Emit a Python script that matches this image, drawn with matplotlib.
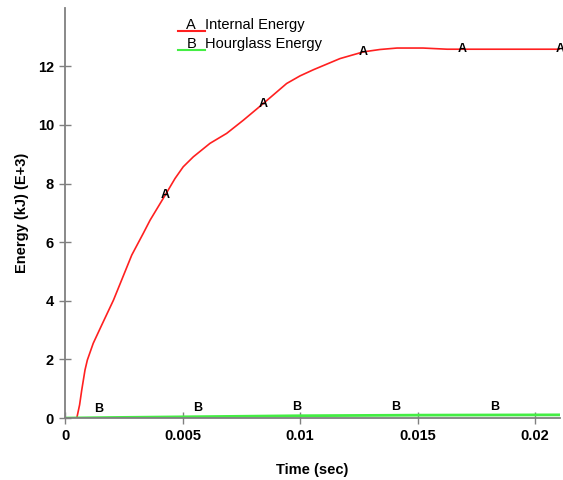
"""Energy history plot: internal vs hourglass energy."""
import matplotlib

matplotlib.use("Agg")
import matplotlib.pyplot as plt
import numpy as np

plt.rcParams["font.family"] = ["Liberation Sans", "DejaVu Sans"]

# time history (sec) and energies (kJ, x1e3)
t_internal = [0.0, 0.00050, 0.00062, 0.00071, 0.00085, 0.00095, 0.00120, 0.00156,
              0.00206, 0.00241, 0.00284, 0.00333, 0.00362, 0.00426, 0.00468,
              0.00503, 0.00546, 0.00617, 0.00688, 0.00759, 0.00844, 0.00943,
              0.01000, 0.01057, 0.01170, 0.01270, 0.01340, 0.01413, 0.01523,
              0.01626, 0.02106]
e_internal = [0.0, 0.0, 0.45, 0.95, 1.64, 1.98, 2.55, 3.17,
              4.02, 4.71, 5.56, 6.30, 6.75, 7.60, 8.17,
              8.57, 8.91, 9.37, 9.71, 10.16, 10.73, 11.41,
              11.67, 11.88, 12.26, 12.49, 12.57, 12.62, 12.62,
              12.58, 12.58]

t_hourglass = [0.0, 0.0010, 0.0020, 0.0040, 0.0060, 0.0080, 0.0100, 0.0150, 0.02106]
e_hourglass = [0.0, 0.01, 0.02, 0.035, 0.05, 0.065, 0.08, 0.10, 0.11]

# curve marker letters
t_marks_a = [0.00426, 0.00843, 0.01268, 0.01690, 0.02106]
t_marks_b = [0.00145, 0.00566, 0.00987, 0.01409, 0.01830]

x_ticks = [0, 0.005, 0.01, 0.015, 0.02]
x_tick_labels = ["0", "0.005", "0.01", "0.015", "0.02"]
y_ticks = [0, 2, 4, 6, 8, 10, 12]

fig = plt.figure(figsize=(5.63, 4.80), dpi=100)
ax = fig.add_axes([0.1155, 0.129, 0.879, 0.854])

ax.plot(t_internal, e_internal, color="#ff2020", lw=1.2)
ax.plot(t_hourglass, e_hourglass, color="#44ee44", lw=2.0)

for tm in t_marks_a:
    ax.annotate("A", (tm, np.interp(tm, t_internal, e_internal)), xytext=(0, 0),
                textcoords="offset points", ha="center", va="center",
                fontsize=9, fontweight="bold")
for tm in t_marks_b:
    ax.annotate("B", (tm, np.interp(tm, t_hourglass, e_hourglass)), xytext=(0, 6),
                textcoords="offset points", ha="center", va="center",
                fontsize=9, fontweight="bold")

ax.set_xlim(0, 0.02106)
ax.set_ylim(0, 13.98)
ax.set_xticks(x_ticks)
ax.set_xticklabels(x_tick_labels)
ax.set_yticks(y_ticks)

for side in ("top", "right"):
    ax.spines[side].set_visible(False)
for side in ("left", "bottom"):
    ax.spines[side].set_color("#808080")
    ax.spines[side].set_linewidth(1.3)
ax.tick_params(direction="inout", length=8, width=1, color="#808080",
               labelsize=10.5, pad=4)
for lab in ax.get_xticklabels() + ax.get_yticklabels():
    lab.set_fontweight("bold")

ax.set_xlabel("Time (sec)", fontsize=10.5, fontweight="bold", labelpad=14)
ax.set_ylabel("Energy (kJ) (E+3)", fontsize=10.5, fontweight="bold", labelpad=6)

# legend: letter sitting on a short coloured line, then the name
legend_rows = [("A", "Internal Energy", "#ff2020"), ("B", "Hourglass Energy", "#44ee44")]
for i, (letter, name, color) in enumerate(legend_rows):
    y = 0.944 - i * 0.046
    ax.plot([0.229, 0.282], [y, y], color=color, lw=1.5, transform=ax.transAxes,
            clip_on=False)
    ax.text(0.255, y - 0.002, letter, transform=ax.transAxes, ha="center",
            va="bottom", fontsize=10.5)
    ax.text(0.282, y - 0.002, name, transform=ax.transAxes, ha="left",
            va="bottom", fontsize=10.5)

fig.savefig("out.png", dpi=100)
